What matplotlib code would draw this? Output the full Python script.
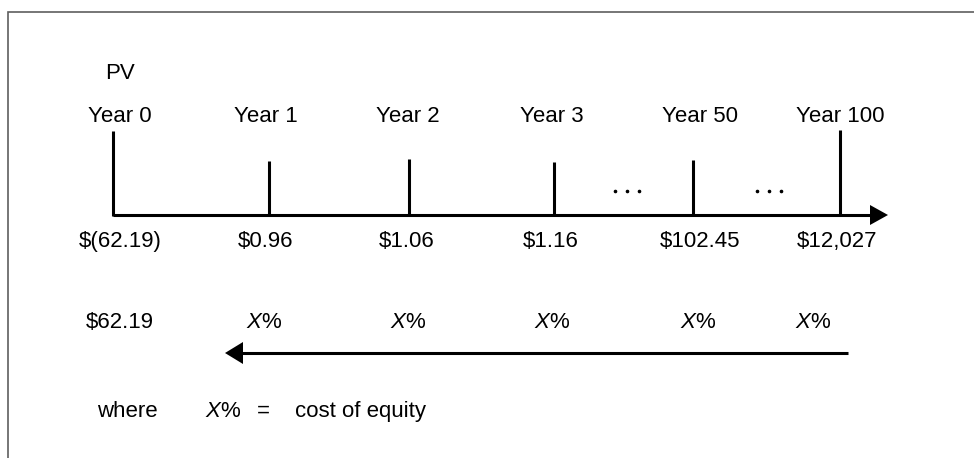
import matplotlib
matplotlib.use("Agg")
import matplotlib.pyplot as plt
from matplotlib.patches import Polygon

plt.rcParams['font.family'] = ['Liberation Sans', 'DejaVu Sans']
plt.rcParams['mathtext.fontset'] = 'custom'
plt.rcParams['mathtext.rm'] = 'Liberation Sans'
plt.rcParams['mathtext.it'] = 'Liberation Sans:italic'

# ---- data ----
year_labels = ["Year 0", "Year 1", "Year 2", "Year 3", "Year 50", "Year 100"]
cash_flows = ["$(62.19)", "$0.96", "$1.06", "$1.16", "$102.45", "$12,027"]
pv_value = "$62.19"
rate_label = r"$\mathit{X}$%"
legend_words = ["where", r"$\mathit{X}$%", "=", "cost of equity"]

# ---- layout (pixel coordinates) ----
W, H = 974, 458
tick_x = [113, 269, 409, 554, 693, 840]
tick_top = [131, 161, 159, 162, 160, 130]
label_x = [120, 266, 408, 552, 700, 840]
value_x = [120, 266, 407, 551, 700, 837]
rate_x = [264, 408, 552, 698, 813]
dots_x = [627, 769]
legend_x = [97, 205, 257, 295]
axis_y = 215
axis_end = 888
back_y = 353
back_start, back_tip = 848, 225
fs = 16

fig = plt.figure(figsize=(W / 100, H / 100), dpi=100)
ax = fig.add_axes([0, 0, 1, 1])
ax.set_xlim(0, W)
ax.set_ylim(H, 0)
ax.axis('off')

# frame
ax.plot([8, 8, W + 5], [H + 5, 11.5, 11.5], color='#5f5f5f', lw=1.2,
        solid_joinstyle='miter')

lw = 2.2
# time axis with arrow
hl, hw = 18, 10
ax.plot([tick_x[0], axis_end - hl + 2], [axis_y, axis_y], color='black', lw=lw,
        solid_capstyle='butt')
ax.add_patch(Polygon([[axis_end - hl, axis_y - hw], [axis_end, axis_y],
                      [axis_end - hl, axis_y + hw]], closed=True,
                     color='black', lw=0))

# ticks
for x, t in zip(tick_x, tick_top):
    ax.plot([x, x], [axis_y + 1, t], color='black', lw=lw, solid_capstyle='butt')

# dots
for dx in dots_x:
    ax.plot([dx - 12, dx, dx + 12], [191, 191, 191], 'o', color='black',
            markersize=1.6, linestyle='none')

# labels
ax.text(105, 79, "PV", fontsize=fs, ha='left', va='baseline')
for x, s in zip(label_x, year_labels):
    ax.text(x, 122, s, fontsize=fs, ha='center', va='baseline')
for x, s in zip(value_x, cash_flows):
    ax.text(x, 247, s, fontsize=fs, ha='center', va='baseline', parse_math=False)

ax.text(120, 328, pv_value, fontsize=fs, ha='center', va='baseline', parse_math=False)
for x in rate_x:
    ax.text(x, 328, rate_label, fontsize=fs, ha='center', va='baseline')

# back-discount arrow
bhl, bhw = 18, 11
ax.plot([back_start, back_tip + bhl - 2], [back_y, back_y], color='black', lw=lw,
        solid_capstyle='butt')
ax.add_patch(Polygon([[back_tip + bhl, back_y - bhw], [back_tip, back_y],
                      [back_tip + bhl, back_y + bhw]], closed=True,
                     color='black', lw=0))

# legend line
for x, s in zip(legend_x, legend_words):
    ax.text(x, 417, s, fontsize=fs, ha='left', va='baseline')

fig.savefig("out.png", dpi=100)
